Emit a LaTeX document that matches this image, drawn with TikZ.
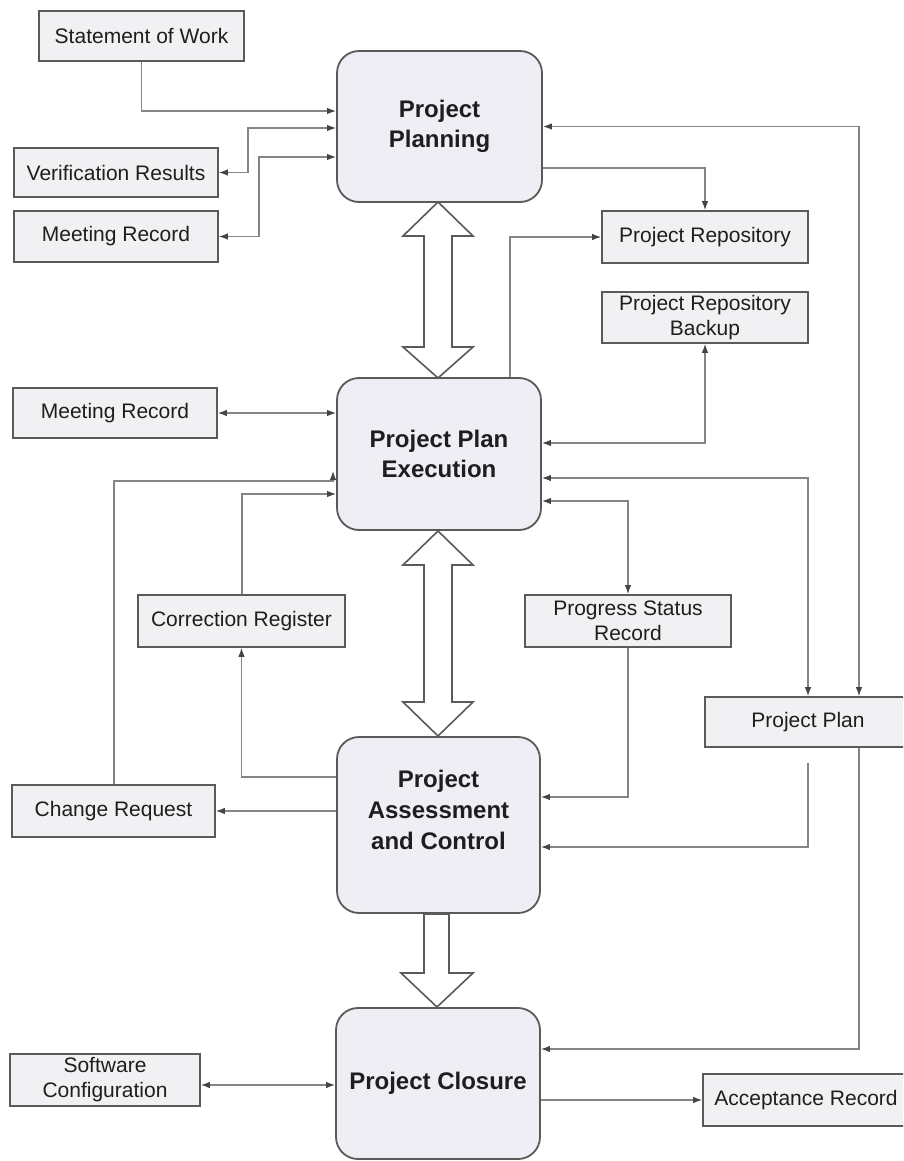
\documentclass[tikz,border=0pt]{standalone}
\usepackage{fontspec}
\setmainfont{Liberation Sans}
\usetikzlibrary{arrows.meta}
\definecolor{boxline}{HTML}{5A5A5A}
\definecolor{sfill}{HTML}{F1F1F4}
\definecolor{bfill}{HTML}{EEEEF4}
\definecolor{lncol}{HTML}{858585}
\definecolor{arrcol}{HTML}{444444}
\definecolor{txt}{HTML}{1E1E1E}
\begin{document}
\begin{tikzpicture}[x=1pt,y=-1pt,
  sbox/.style={draw=boxline, fill=sfill, line width=1.6pt, text=txt,
    font=\fontsize{21}{25}\selectfont, align=center, inner sep=0pt},
  bbox/.style={draw=boxline, fill=bfill, line width=1.8pt, rounded corners=22pt,
    text=txt, font=\bfseries\fontsize{24}{30}\selectfont, align=center, inner sep=0pt},
  btxt/.style={text=txt, font=\bfseries\fontsize{24}{31}\selectfont, align=center, inner sep=0pt},
  conn/.style={draw=lncol, line width=1.3pt},
  arr/.style={conn, -{Latex[length=9pt,width=6.5pt,color=arrcol]}},
  darr/.style={conn, {Latex[length=9pt,width=6.5pt,color=arrcol]}-{Latex[length=9pt,width=6.5pt,color=arrcol]}},
  blk/.style={draw=boxline, fill=white, line width=1.6pt, line join=miter}]
\useasboundingbox (0,0) rectangle (903,1161);
\clip (0,0) rectangle (903,1161);
\fill[white] (0,0) rectangle (903,1161);

% big process boxes
\node[bbox, minimum width=205pt, minimum height=151pt] (pp) at (439.5,126.5) {Project\\Planning};
\node[bbox, minimum width=204pt, minimum height=152pt] (ppe) at (439,454) {Project Plan\\Execution};
\node[bbox, minimum width=203pt, minimum height=176pt] (pac) at (438.5,825) {};
\node[btxt] (pact) at (438.5,810) {Project\\Assessment\\and Control};
\node[bbox, minimum width=204pt, minimum height=151pt] (pc) at (438,1083.5) {Project Closure};

% small boxes
\node[sbox, minimum width=205pt, minimum height=50pt] (sow) at (141.5,36) {Statement of Work};
\node[sbox, minimum width=204pt, minimum height=49pt] (vr) at (116,172.5) {Verification Results};
\node[sbox, minimum width=204pt, minimum height=51pt] (mr1) at (116,236.5) {Meeting Record};
\node[sbox, minimum width=206pt, minimum height=52pt] (pr) at (705,237) {Project Repository};
\node[sbox, minimum width=206pt, minimum height=51pt] (prb) at (705,317.5) {Project Repository\\Backup};
\node[sbox, minimum width=204pt, minimum height=50pt] (mr2) at (115,413) {Meeting Record};
\node[sbox, minimum width=207pt, minimum height=52pt] (corr) at (241.5,621) {Correction Register};
\node[sbox, minimum width=206pt, minimum height=52pt] (psr) at (628,621) {Progress Status\\Record};
\node[sbox, minimum width=206pt, minimum height=50pt] (pplan) at (808,722) {Project Plan};
\node[sbox, minimum width=203pt, minimum height=52pt] (cr) at (113.5,811) {Change Request};
\node[sbox, minimum width=190pt, minimum height=52pt] (sc) at (105,1080) {Software\\Configuration};
\node[sbox, minimum width=206pt, minimum height=52pt] (ar) at (806,1100) {Acceptance Record};

% block arrows
\draw[blk] (438,202) -- (473,236) -- (452,236) -- (452,347) -- (473,347) -- (438,378)
  -- (403,347) -- (424,347) -- (424,236) -- (403,236) -- cycle;
\draw[blk] (438,531) -- (473,565) -- (452,565) -- (452,702) -- (473,702) -- (438,736)
  -- (403,702) -- (424,702) -- (424,565) -- (403,565) -- cycle;
\draw[blk] (424,914) -- (449,914) -- (449,973) -- (473,973) -- (437,1007)
  -- (401,973) -- (424,973) -- cycle;

% connectors around Project Planning
\draw[arr] (sow.south) |- (pp.west |- 0,111);
\draw[darr] (vr.east) -- (248,172.5) |- (pp.west |- 0,128);
\draw[darr] (mr1.east) -- (259,236.5) |- (pp.west |- 0,157);
\draw[darr] (pp.east) -| (pplan.north -| 859,0);
\draw[arr] (pp.east |- 0,168) -| (pr.north);

% connectors around Project Plan Execution
\draw[arr] (ppe.north -| 510,0) |- (pr.west);
\draw[darr] (ppe.east |- 0,443) -| (prb.south);
\draw[darr] (mr2.east) -- (ppe.west |- mr2.east);
\draw[arr] (cr.north -| 114,0) |- (333,481) -- (333,471);
\draw[arr] (corr.north -| 242,0) |- (ppe.west |- 0,494);
\draw[darr] (ppe.east |- 0,478) -| (pplan.north);
\draw[darr] (ppe.east |- 0,501) -| (psr.north);

% connectors around Project Assessment and Control
\draw[arr] (pac.west |- 0,777) -| (corr.south);
\draw[arr] (pac.west |- cr.east) -- (cr.east);
\draw[arr] (psr.south) |- (pac.east |- 0,797);
\draw[arr, shorten <=15pt] (pplan.south) |- (pac.east |- 0,847);

% connectors around Project Closure
\draw[arr] (pplan.south -| 859,0) |- (pc.east |- 0,1049);
\draw[darr] (sc.east |- 0,1085) -- (pc.west |- 0,1085);
\draw[arr] (pc.east |- ar.west) -- (ar.west);
\end{tikzpicture}
\end{document}
